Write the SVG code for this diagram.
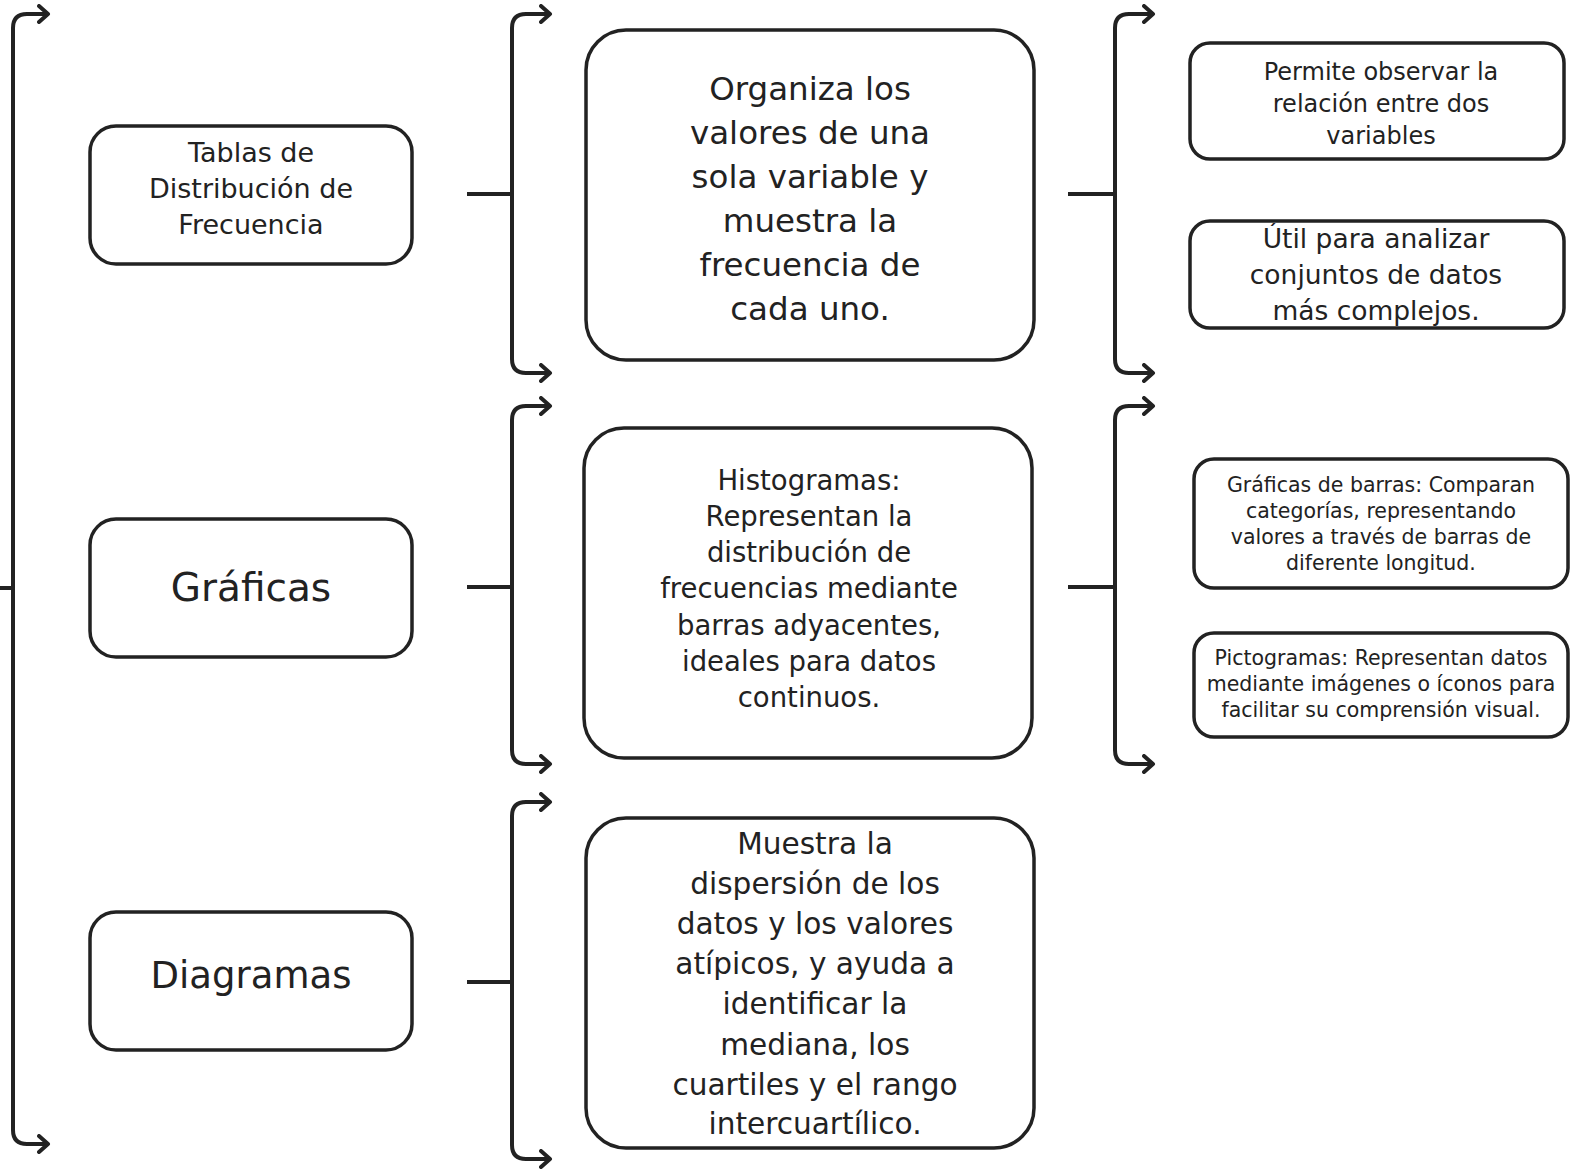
<svg xmlns="http://www.w3.org/2000/svg" width="1575" height="1172" viewBox="0 0 1575 1172">
<defs>
<marker id="arr" viewBox="0 0 14 20" refX="11" refY="10" markerWidth="14" markerHeight="20" markerUnits="userSpaceOnUse" orient="auto-start-reverse">
<path d="M2,2 L11,10 L2,18" fill="none" stroke="#222" stroke-width="4" stroke-linecap="round" stroke-linejoin="round"/>
</marker>
<style>
.box{fill:#fff;stroke:#222;stroke-width:3.5}
.br{fill:none;stroke:#222;stroke-width:4;stroke-linecap="round"}
.st{fill:none;stroke:#222;stroke-width:4}
text{font-family:"DejaVu Sans","Noto Sans",sans-serif;fill:#222;text-anchor:middle}
</style>
</defs>
<rect width="1575" height="1172" fill="#fff"/>
<g id="connectors">
<path class="br" d="M48,14 H27 Q13,14 13,28 V1130 Q13,1144 27,1144 H48" marker-start="url(#arr)" marker-end="url(#arr)"/>
<path class="st" d="M0,588 H13"/>
<path class="br" d="M550,14 H526 Q512,14 512,28 V359 Q512,373 526,373 H550" marker-start="url(#arr)" marker-end="url(#arr)"/>
<path class="st" d="M467,194 H512"/>
<path class="br" d="M550,406 H526 Q512,406 512,420 V750 Q512,764 526,764 H550" marker-start="url(#arr)" marker-end="url(#arr)"/>
<path class="st" d="M467,587 H512"/>
<path class="br" d="M550,802 H526 Q512,802 512,816 V1145 Q512,1159 526,1159 H550" marker-start="url(#arr)" marker-end="url(#arr)"/>
<path class="st" d="M467,982 H512"/>
<path class="br" d="M1153,14 H1129 Q1115,14 1115,28 V359 Q1115,373 1129,373 H1153" marker-start="url(#arr)" marker-end="url(#arr)"/>
<path class="st" d="M1068,194 H1115"/>
<path class="br" d="M1153,406 H1129 Q1115,406 1115,420 V750 Q1115,764 1129,764 H1153" marker-start="url(#arr)" marker-end="url(#arr)"/>
<path class="st" d="M1068,587 H1115"/>
</g>
<g id="n-tablas">
<rect class="box" x="90" y="126" width="322" height="138" rx="26"/>
<text font-size="27"><tspan x="251" y="162">Tablas de</tspan><tspan x="251" y="198">Distribución de</tspan><tspan x="251" y="234">Frecuencia</tspan></text>
</g>
<g id="n-graficas">
<rect class="box" x="90" y="519" width="322" height="138" rx="26"/>
<text font-size="39" x="251" y="601">Gráficas</text>
</g>
<g id="n-diagramas">
<rect class="box" x="90" y="912" width="322" height="138" rx="26"/>
<text font-size="37" x="251" y="988">Diagramas</text>
</g>
<g id="n-organiza">
<rect class="box" x="586" y="30" width="448" height="330" rx="40"/>
<text font-size="32.5"><tspan x="810" y="100">Organiza los</tspan><tspan x="810" y="144">valores de una</tspan><tspan x="810" y="188">sola variable y</tspan><tspan x="810" y="232">muestra la</tspan><tspan x="810" y="276">frecuencia de</tspan><tspan x="810" y="320">cada uno.</tspan></text>
</g>
<g id="n-histogramas">
<rect class="box" x="584" y="428" width="448" height="330" rx="40"/>
<text font-size="27.5"><tspan x="809" y="490">Histogramas:</tspan><tspan x="809" y="526">Representan la</tspan><tspan x="809" y="562">distribución de</tspan><tspan x="809" y="598">frecuencias mediante</tspan><tspan x="809" y="635">barras adyacentes,</tspan><tspan x="809" y="671">ideales para datos</tspan><tspan x="809" y="707">continuos.</tspan></text>
</g>
<g id="n-muestra">
<rect class="box" x="586" y="818" width="448" height="330" rx="40"/>
<text font-size="29.6"><tspan x="815" y="854">Muestra la</tspan><tspan x="815" y="894">dispersión de los</tspan><tspan x="815" y="934">datos y los valores</tspan><tspan x="815" y="974">atípicos, y ayuda a</tspan><tspan x="815" y="1014">identificar la</tspan><tspan x="815" y="1055">mediana, los</tspan><tspan x="815" y="1095">cuartiles y el rango</tspan><tspan x="815" y="1134">intercuartílico.</tspan></text>
</g>
<g id="n-permite">
<rect class="box" x="1190" y="43" width="374" height="116" rx="20"/>
<text font-size="24"><tspan x="1381" y="80">Permite observar la</tspan><tspan x="1381" y="112">relación entre dos</tspan><tspan x="1381" y="144">variables</tspan></text>
</g>
<g id="n-util">
<rect class="box" x="1190" y="221" width="374" height="107" rx="20"/>
<text font-size="26.5"><tspan x="1376" y="248">Útil para analizar</tspan><tspan x="1376" y="284">conjuntos de datos</tspan><tspan x="1376" y="320">más complejos.</tspan></text>
</g>
<g id="n-barras">
<rect class="box" x="1194" y="459" width="374" height="129" rx="20"/>
<text font-size="20.5"><tspan x="1381" y="492">Gráficas de barras: Comparan</tspan><tspan x="1381" y="518">categorías, representando</tspan><tspan x="1381" y="544">valores a través de barras de</tspan><tspan x="1381" y="570">diferente longitud.</tspan></text>
</g>
<g id="n-picto">
<rect class="box" x="1194" y="633" width="374" height="104" rx="20"/>
<text font-size="20.5"><tspan x="1381" y="665">Pictogramas: Representan datos</tspan><tspan x="1381" y="691">mediante imágenes o íconos para</tspan><tspan x="1381" y="717">facilitar su comprensión visual.</tspan></text>
</g>
</svg>
